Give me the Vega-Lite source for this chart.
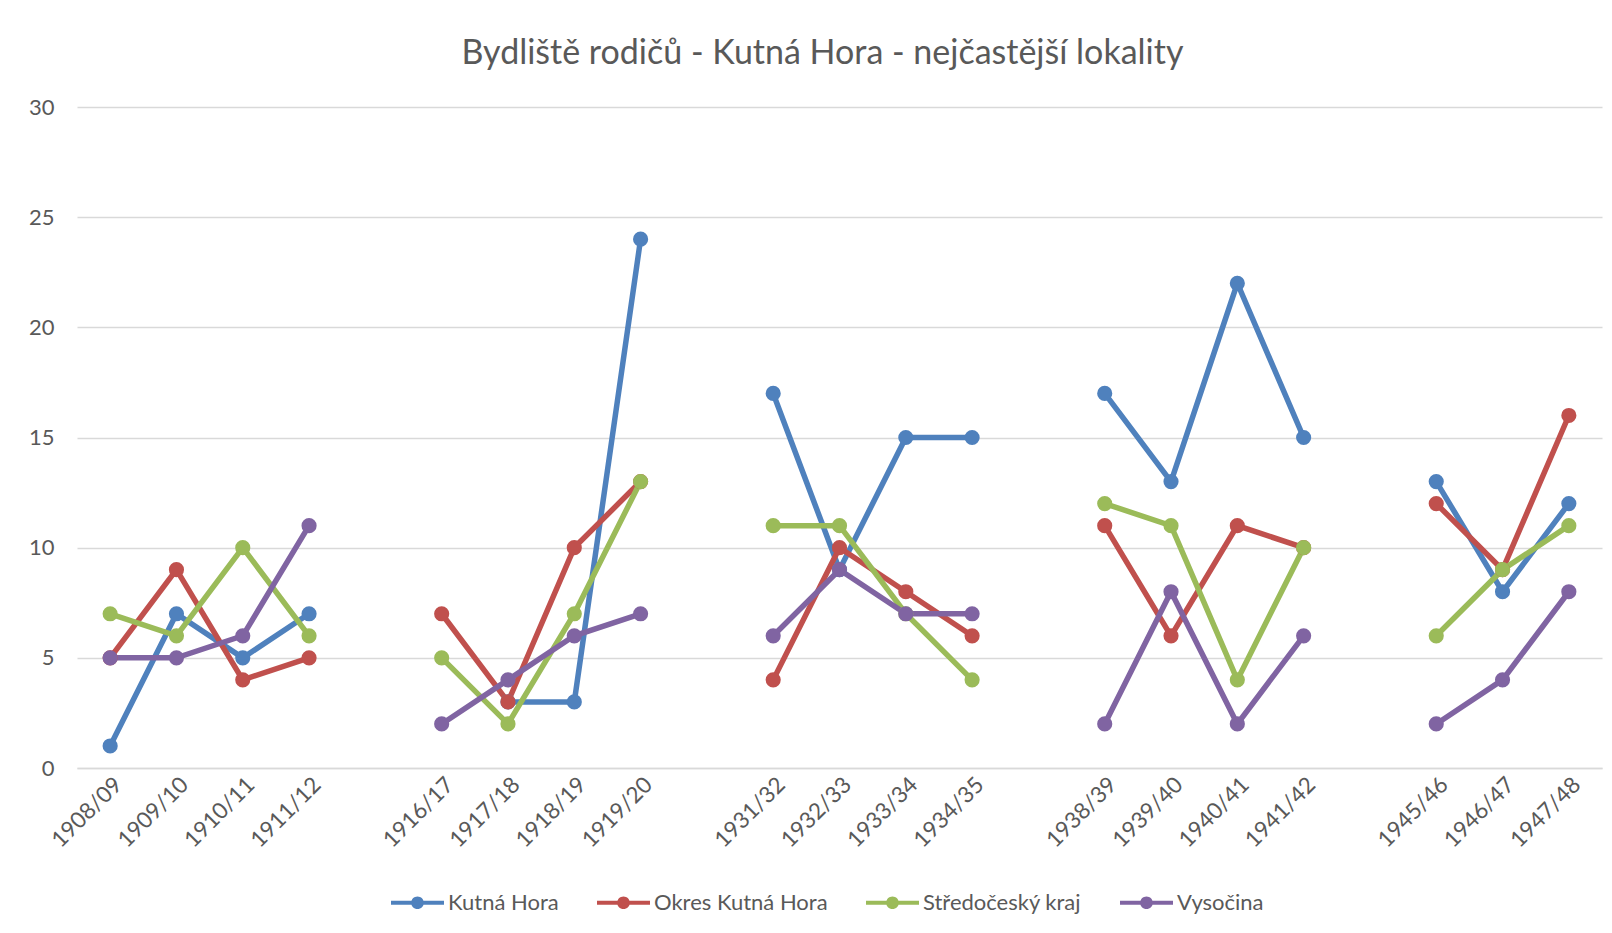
{
  "$schema": "https://vega.github.io/schema/vega-lite/v6.json",
  "width": 1525,
  "height": 661,
  "autosize": "none",
  "padding": {"left": 77, "top": 107, "right": 10, "bottom": 165},
  "background": "white",
  "title": {
    "text": "Bydliště rodičů - Kutná Hora - nejčastější lokality",
    "font": "Lato",
    "fontSize": 34,
    "fontWeight": "normal",
    "color": "#595959",
    "anchor": "middle",
    "frame": "group",
    "offset": 25,
    "dx": -17
  },
  "data": {
    "values": [
      {"s": "Kutná Hora", "y": "1908/09", "v": 1, "g": 1},
      {"s": "Kutná Hora", "y": "1909/10", "v": 7, "g": 1},
      {"s": "Kutná Hora", "y": "1910/11", "v": 5, "g": 1},
      {"s": "Kutná Hora", "y": "1911/12", "v": 7, "g": 1},
      {"s": "Kutná Hora", "y": "1917/18", "v": 3, "g": 2},
      {"s": "Kutná Hora", "y": "1918/19", "v": 3, "g": 2},
      {"s": "Kutná Hora", "y": "1919/20", "v": 24, "g": 2},
      {"s": "Kutná Hora", "y": "1931/32", "v": 17, "g": 3},
      {"s": "Kutná Hora", "y": "1932/33", "v": 9, "g": 3},
      {"s": "Kutná Hora", "y": "1933/34", "v": 15, "g": 3},
      {"s": "Kutná Hora", "y": "1934/35", "v": 15, "g": 3},
      {"s": "Kutná Hora", "y": "1938/39", "v": 17, "g": 4},
      {"s": "Kutná Hora", "y": "1939/40", "v": 13, "g": 4},
      {"s": "Kutná Hora", "y": "1940/41", "v": 22, "g": 4},
      {"s": "Kutná Hora", "y": "1941/42", "v": 15, "g": 4},
      {"s": "Kutná Hora", "y": "1945/46", "v": 13, "g": 5},
      {"s": "Kutná Hora", "y": "1946/47", "v": 8, "g": 5},
      {"s": "Kutná Hora", "y": "1947/48", "v": 12, "g": 5},

      {"s": "Okres Kutná Hora", "y": "1908/09", "v": 5, "g": 1},
      {"s": "Okres Kutná Hora", "y": "1909/10", "v": 9, "g": 1},
      {"s": "Okres Kutná Hora", "y": "1910/11", "v": 4, "g": 1},
      {"s": "Okres Kutná Hora", "y": "1911/12", "v": 5, "g": 1},
      {"s": "Okres Kutná Hora", "y": "1916/17", "v": 7, "g": 2},
      {"s": "Okres Kutná Hora", "y": "1917/18", "v": 3, "g": 2},
      {"s": "Okres Kutná Hora", "y": "1918/19", "v": 10, "g": 2},
      {"s": "Okres Kutná Hora", "y": "1919/20", "v": 13, "g": 2},
      {"s": "Okres Kutná Hora", "y": "1931/32", "v": 4, "g": 3},
      {"s": "Okres Kutná Hora", "y": "1932/33", "v": 10, "g": 3},
      {"s": "Okres Kutná Hora", "y": "1933/34", "v": 8, "g": 3},
      {"s": "Okres Kutná Hora", "y": "1934/35", "v": 6, "g": 3},
      {"s": "Okres Kutná Hora", "y": "1938/39", "v": 11, "g": 4},
      {"s": "Okres Kutná Hora", "y": "1939/40", "v": 6, "g": 4},
      {"s": "Okres Kutná Hora", "y": "1940/41", "v": 11, "g": 4},
      {"s": "Okres Kutná Hora", "y": "1941/42", "v": 10, "g": 4},
      {"s": "Okres Kutná Hora", "y": "1945/46", "v": 12, "g": 5},
      {"s": "Okres Kutná Hora", "y": "1946/47", "v": 9, "g": 5},
      {"s": "Okres Kutná Hora", "y": "1947/48", "v": 16, "g": 5},

      {"s": "Středočeský kraj", "y": "1908/09", "v": 7, "g": 1},
      {"s": "Středočeský kraj", "y": "1909/10", "v": 6, "g": 1},
      {"s": "Středočeský kraj", "y": "1910/11", "v": 10, "g": 1},
      {"s": "Středočeský kraj", "y": "1911/12", "v": 6, "g": 1},
      {"s": "Středočeský kraj", "y": "1916/17", "v": 5, "g": 2},
      {"s": "Středočeský kraj", "y": "1917/18", "v": 2, "g": 2},
      {"s": "Středočeský kraj", "y": "1918/19", "v": 7, "g": 2},
      {"s": "Středočeský kraj", "y": "1919/20", "v": 13, "g": 2},
      {"s": "Středočeský kraj", "y": "1931/32", "v": 11, "g": 3},
      {"s": "Středočeský kraj", "y": "1932/33", "v": 11, "g": 3},
      {"s": "Středočeský kraj", "y": "1933/34", "v": 7, "g": 3},
      {"s": "Středočeský kraj", "y": "1934/35", "v": 4, "g": 3},
      {"s": "Středočeský kraj", "y": "1938/39", "v": 12, "g": 4},
      {"s": "Středočeský kraj", "y": "1939/40", "v": 11, "g": 4},
      {"s": "Středočeský kraj", "y": "1940/41", "v": 4, "g": 4},
      {"s": "Středočeský kraj", "y": "1941/42", "v": 10, "g": 4},
      {"s": "Středočeský kraj", "y": "1945/46", "v": 6, "g": 5},
      {"s": "Středočeský kraj", "y": "1946/47", "v": 9, "g": 5},
      {"s": "Středočeský kraj", "y": "1947/48", "v": 11, "g": 5},

      {"s": "Vysočina", "y": "1908/09", "v": 5, "g": 1},
      {"s": "Vysočina", "y": "1909/10", "v": 5, "g": 1},
      {"s": "Vysočina", "y": "1910/11", "v": 6, "g": 1},
      {"s": "Vysočina", "y": "1911/12", "v": 11, "g": 1},
      {"s": "Vysočina", "y": "1916/17", "v": 2, "g": 2},
      {"s": "Vysočina", "y": "1917/18", "v": 4, "g": 2},
      {"s": "Vysočina", "y": "1918/19", "v": 6, "g": 2},
      {"s": "Vysočina", "y": "1919/20", "v": 7, "g": 2},
      {"s": "Vysočina", "y": "1931/32", "v": 6, "g": 3},
      {"s": "Vysočina", "y": "1932/33", "v": 9, "g": 3},
      {"s": "Vysočina", "y": "1933/34", "v": 7, "g": 3},
      {"s": "Vysočina", "y": "1934/35", "v": 7, "g": 3},
      {"s": "Vysočina", "y": "1938/39", "v": 2, "g": 4},
      {"s": "Vysočina", "y": "1939/40", "v": 8, "g": 4},
      {"s": "Vysočina", "y": "1940/41", "v": 2, "g": 4},
      {"s": "Vysočina", "y": "1941/42", "v": 6, "g": 4},
      {"s": "Vysočina", "y": "1945/46", "v": 2, "g": 5},
      {"s": "Vysočina", "y": "1946/47", "v": 4, "g": 5},
      {"s": "Vysočina", "y": "1947/48", "v": 8, "g": 5}
    ]
  },
  "mark": {"type": "line", "strokeWidth": 5.5, "point": {"filled": true, "size": 230, "opacity": 1}},
  "encoding": {
    "x": {
      "field": "y",
      "type": "ordinal",
      "sort": null,
      "scale": {
        "domain": ["1908/09", "1909/10", "1910/11", "1911/12", " ", "1916/17", "1917/18", "1918/19", "1919/20", "  ", "1931/32", "1932/33", "1933/34", "1934/35", "   ", "1938/39", "1939/40", "1940/41", "1941/42", "    ", "1945/46", "1946/47", "1947/48"]
      },
      "axis": {
        "title": null,
        "labelAngle": -45,
        "labelFont": "Lato",
        "labelFontSize": 22.5,
        "labelColor": "#595959",
        "labelPadding": 5,
        "ticks": false,
        "grid": false,
        "domain": true,
        "domainColor": "#D9D9D9",
        "domainWidth": 1.5
      }
    },
    "y": {
      "field": "v",
      "type": "quantitative",
      "scale": {"domain": [0, 30]},
      "axis": {
        "title": null,
        "values": [0, 5, 10, 15, 20, 25, 30],
        "labelFont": "Lato",
        "labelFontSize": 22,
        "labelColor": "#595959",
        "labelPadding": 23,
        "ticks": false,
        "domain": false,
        "grid": true,
        "gridColor": "#D9D9D9",
        "gridWidth": 1.5
      }
    },
    "color": {
      "field": "s",
      "type": "nominal",
      "sort": null,
      "scale": {
        "domain": ["Kutná Hora", "Okres Kutná Hora", "Středočeský kraj", "Vysočina"],
        "range": ["#4F81BD", "#C0504D", "#9BBB59", "#8064A2"]
      },
      "legend": {
        "title": null,
        "orient": "none",
        "direction": "horizontal",
        "legendX": 314,
        "legendY": 769,
        "symbolType": "M-1,-0.08L1,-0.08L1,0.08L-1,0.08Z M0.24,0A0.24,0.24,0,1,1,-0.24,0A0.24,0.24,0,1,1,0.24,0Z",
        "symbolSize": 2809,
        "symbolStrokeWidth": 0,
        "labelFont": "Lato",
        "labelFontSize": 22,
        "labelColor": "#595959",
        "labelOffset": 4,
        "labelLimit": 400,
        "columnPadding": 38,
        "encode": {
          "symbols": {
            "update": {
              "fill": {"scale": "color", "field": "value"},
              "strokeWidth": {"value": 0},
              "opacity": {"value": 1}
            }
          }
        }
      }
    },
    "detail": {"field": "g", "type": "nominal"}
  },
  "config": {
    "view": {"stroke": null}
  }
}
